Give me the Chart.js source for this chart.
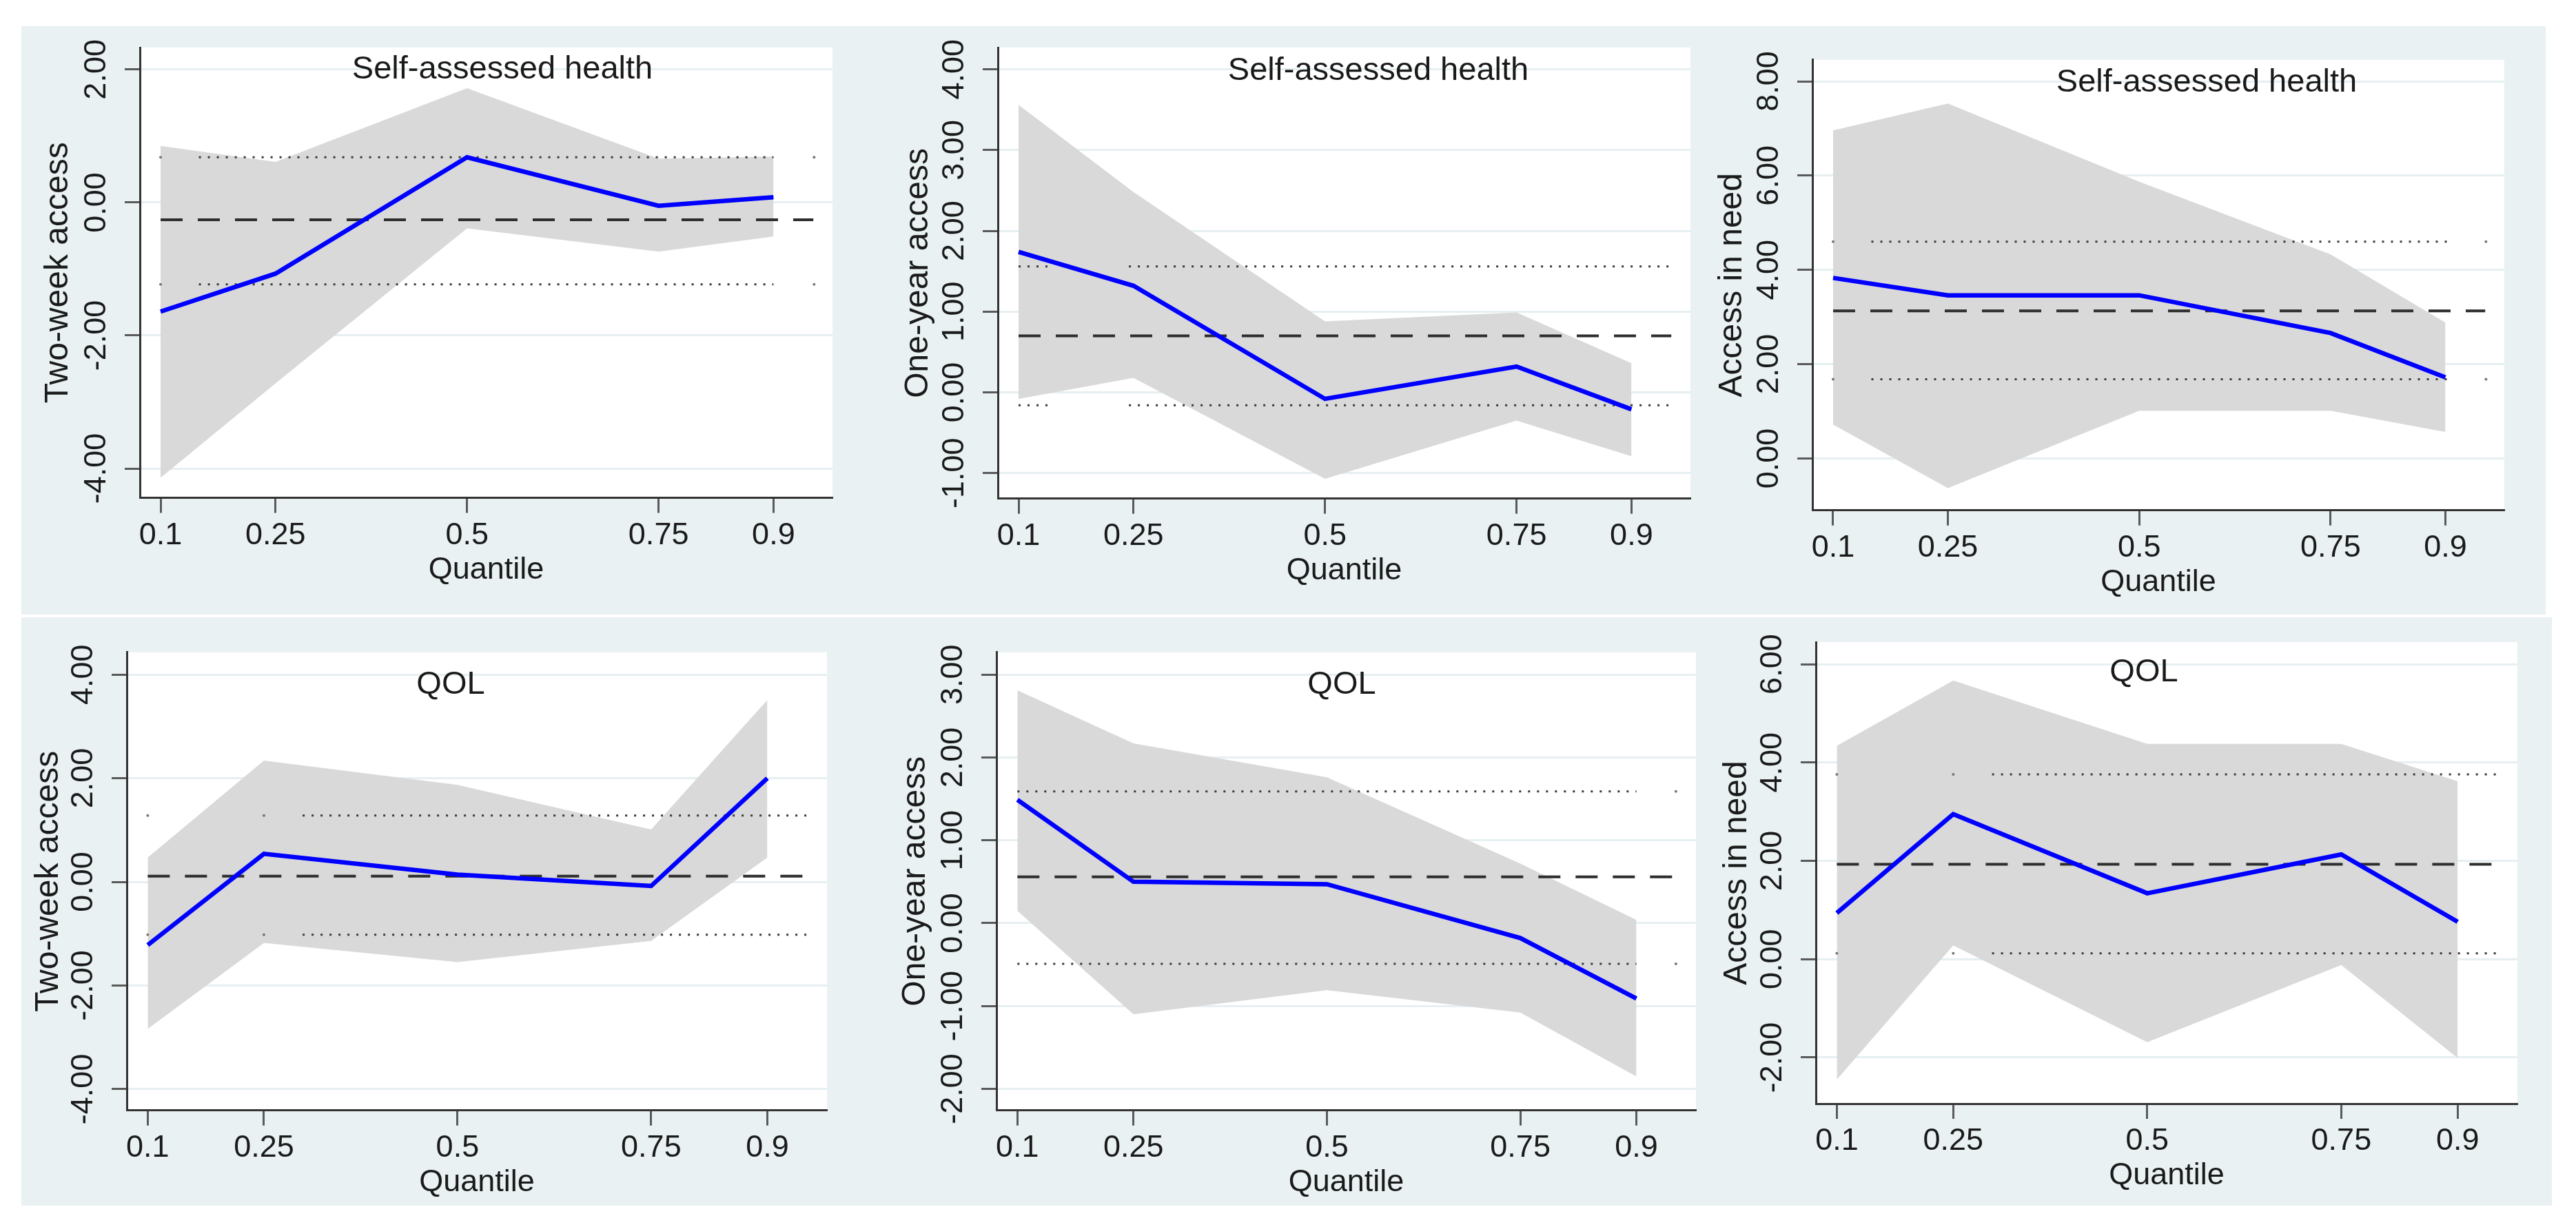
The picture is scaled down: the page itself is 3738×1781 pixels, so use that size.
<!DOCTYPE html>
<html>
<head>
<meta charset="utf-8">
<script src="https://cdn.jsdelivr.net/npm/chart.js@4.4.1/dist/chart.umd.min.js"></script>
<style>
  html, body { margin: 0; padding: 0; background: #fff; }
  body { width: 3738px; height: 1781px; position: relative; overflow: hidden; }
  .row { position: absolute; background: #e9f1f3; }
  canvas { position: absolute; }
</style>
</head>
<body>
<div class="row" style="left:31px;top:38px;width:3663px;height:854px"></div>
<div class="row" style="left:31px;top:896px;width:3672px;height:854px"></div>
<canvas id="c1"></canvas>
<canvas id="c2"></canvas>
<canvas id="c3"></canvas>
<canvas id="c4"></canvas>
<canvas id="c5"></canvas>
<canvas id="c6"></canvas>
<script>
// --- datos ---
const quantiles = [0.1, 0.25, 0.5, 0.75, 0.9];
const xTicks = [0.1, 0.25, 0.5, 0.75, 0.9];
const xTickLabels = ['0.1', '0.25', '0.5', '0.75', '0.9'];
const panelTitles = ['Self-assessed health', 'Self-assessed health', 'Self-assessed health', 'QOL', 'QOL', 'QOL'];
const yTitles = ['Two-week access', 'One-year access', 'Access in need', 'Two-week access', 'One-year access', 'Access in need'];

// quantile estimate, lower / upper band
const est1 = [-1.64, -1.07, 0.68, -0.05, 0.08];
const lo1  = [-4.14, -2.72, -0.39, -0.74, -0.51];
const hi1  = [0.85, 0.61, 1.72, 0.66, 0.69];
const est2 = [1.74, 1.32, -0.08, 0.32, -0.21];
const lo2  = [-0.08, 0.18, -1.07, -0.35, -0.79];
const hi2  = [3.56, 2.48, 0.88, 0.99, 0.36];
const est3 = [3.83, 3.46, 3.46, 2.66, 1.72];
const lo3  = [0.72, -0.63, 1.01, 1.01, 0.56];
const hi3  = [6.96, 7.53, 5.87, 4.33, 2.88];
const est4 = [-1.22, 0.54, 0.14, -0.08, 2.00];
const lo4  = [-2.84, -1.18, -1.55, -1.14, 0.47];
const hi4  = [0.47, 2.34, 1.87, 1.01, 3.51];
const est5 = [1.49, 0.50, 0.47, -0.18, -0.91];
const lo5  = [0.15, -1.10, -0.81, -1.08, -1.85];
const hi5  = [2.81, 2.17, 1.76, 0.72, 0.04];
const est6 = [0.94, 2.95, 1.34, 2.13, 0.76];
const lo6  = [-2.45, 0.28, -1.69, -0.12, -2.01];
const hi6  = [4.34, 5.67, 4.38, 4.38, 3.62];

// OLS: estimate, lower, upper
const ols1 = [-0.26, -1.23, 0.68];
const ols2 = [0.70, -0.16, 1.56];
const ols3 = [3.13, 1.68, 4.60];
const ols4 = [0.11, -1.02, 1.28];
const ols5 = [0.56, -0.49, 1.59];
const ols6 = [1.93, 0.12, 3.76];
const olsSpan = [0.1, 0.952];

// dotted OLS bounds, pieces separated by null
const dotX1 = [0.1, null, 0.15, 0.9, null, 0.953];
const dotX2 = [0.1, 0.144, null, 0.244, 0.952];
const dotX3 = [0.1, null, 0.15, 0.904, null, 0.953];
const dotX4 = [0.1, null, 0.25, null, 0.3, 0.953];
const dotX5 = [0.1, 0.9, null, 0.951];
const dotX6 = [0.1, null, 0.25, null, 0.3, 0.953];

// y ticks and ranges
const yTicks1 = [-4, -2, 0, 2];
const yTicks2 = [-1, 0, 1, 2, 3, 4];
const yTicks3 = [0, 2, 4, 6, 8];
const yTicks4 = [-4, -2, 0, 2, 4];
const yTicks5 = [-2, -1, 0, 1, 2, 3];
const yTicks6 = [-2, 0, 2, 4, 6];
const yRange1 = [-4.44, 2.33];
const yRange2 = [-1.315, 4.27];
const yRange3 = [-1.10, 8.456];
const yRange4 = [-4.41, 4.43];
const yRange5 = [-2.26, 3.27];
const yRange6 = [-2.94, 6.45];
const xRange = [0.073, 0.977];

// --- disposición (px de página) ---
const FONT = '"Liberation Sans", Arial, sans-serif';
const Y_W = 30, X_H = 30;
const layout = [
  { id: 'c1', box: [31, 38, 1209, 854], plot: [203, 69, 1208, 722.5], title: [729, 101], yTitleOff: 118 },
  { id: 'c2', box: [1240, 38, 1240, 854], plot: [1448, 69, 2453, 723.7], title: [2000, 103], yTitleOff: 115 },
  { id: 'c3', box: [2480, 38, 1214, 854], plot: [2630, 86.8, 3634, 740.7], title: [3202, 120], yTitleOff: 116 },
  { id: 'c4', box: [31, 896, 1209, 854], plot: [184, 946.8, 1200, 1611.7], title: [654, 994], yTitleOff: 113 },
  { id: 'c5', box: [1240, 896, 1240, 854], plot: [1446, 946.8, 2461, 1611.7], title: [1947, 994], yTitleOff: 117 },
  { id: 'c6', box: [2480, 896, 1223, 854], plot: [2635, 932, 3653, 1602], title: [3111, 976], yTitleOff: 114 }
];

const panels = [
  { est: est1, lo: lo1, hi: hi1, ols: ols1, dotX: dotX1, yTicks: yTicks1, yRange: yRange1 },
  { est: est2, lo: lo2, hi: hi2, ols: ols2, dotX: dotX2, yTicks: yTicks2, yRange: yRange2 },
  { est: est3, lo: lo3, hi: hi3, ols: ols3, dotX: dotX3, yTicks: yTicks3, yRange: yRange3 },
  { est: est4, lo: lo4, hi: hi4, ols: ols4, dotX: dotX4, yTicks: yTicks4, yRange: yRange4 },
  { est: est5, lo: lo5, hi: hi5, ols: ols5, dotX: dotX5, yTicks: yTicks5, yRange: yRange5 },
  { est: est6, lo: lo6, hi: hi6, ols: ols6, dotX: dotX6, yTicks: yTicks6, yRange: yRange6 }
];

function pts(xs, ys) { return xs.map((x, i) => ({ x: x, y: ys[i] })); }
function flat(xs, y) {
  return xs.map((x, i) => x === null ? { x: xs[i - 1], y: null } : { x: x, y: y });
}
// punto aislado -> se dibuja como punto
function isolatedRadius(ctx) {
  const d = ctx.dataset.data, i = ctx.dataIndex;
  const prev = d[i - 1], next = d[i + 1];
  const alone = (!prev || prev.y === null) && (!next || next.y === null);
  return alone && d[i] && d[i].y !== null ? 2 : 0;
}

const panelText = {
  id: 'panelText',
  beforeDraw(chart) {
    const { ctx, chartArea: a } = chart;
    ctx.save();
    ctx.fillStyle = '#ffffff';
    ctx.fillRect(a.left, a.top, a.right - a.left, a.bottom - a.top);
    ctx.restore();
  },
  afterDraw(chart, args, o) {
    const { ctx, chartArea: a } = chart;
    const xs = chart.scales.x, ys = chart.scales.y;
    ctx.save();
    ctx.fillStyle = '#1a1a1a';
    ctx.textAlign = 'center';
    ctx.textBaseline = 'middle';
    // y tick labels, rotated
    ctx.font = '45px ' + FONT;
    ys.ticks.forEach(t => {
      ctx.save();
      ctx.translate(a.left - 62, ys.getPixelForValue(t.value));
      ctx.rotate(-Math.PI / 2);
      ctx.fillText(t.value.toFixed(2), 0, 0);
      ctx.restore();
    });
    // x tick labels
    xTicks.forEach((v, i) => ctx.fillText(xTickLabels[i], xs.getPixelForValue(v), a.bottom + 55));
    ctx.fillText('Quantile', (a.left + a.right) / 2, a.bottom + 105);
    // y title
    ctx.font = '48px ' + FONT;
    ctx.save();
    ctx.translate(a.left - o.yTitleOff, (a.top + a.bottom) / 2);
    ctx.rotate(-Math.PI / 2);
    ctx.fillText(o.yTitle, 0, 0);
    ctx.restore();
    // panel title
    ctx.font = '47px ' + FONT;
    ctx.fillText(o.title, o.tx, o.ty);
    ctx.restore();
  }
};

function buildPanel(k) {
  const L = layout[k], P = panels[k];
  const [bx, by, bw, bh] = L.box;
  const [pl, pt, pr, pb] = L.plot;
  const cv = document.getElementById(L.id);
  cv.width = bw; cv.height = bh;
  cv.style.left = bx + 'px'; cv.style.top = by + 'px';
  cv.style.width = bw + 'px'; cv.style.height = bh + 'px';

  new Chart(cv.getContext('2d'), {
    type: 'line',
    data: {
      datasets: [
        { data: pts(quantiles, P.est), borderColor: '#0000ff', borderWidth: 6.5, pointRadius: 0, order: 0 },
        { data: flat(olsSpan, P.ols[0]), borderColor: '#2e2e2e', borderWidth: 4, borderDash: [32, 22], pointRadius: 0, order: 1 },
        { data: flat(P.dotX, P.ols[2]), borderColor: '#3a3a3a', borderWidth: 3, borderDash: [3, 10],
          pointRadius: isolatedRadius, pointBackgroundColor: '#777', pointBorderWidth: 0, spanGaps: false, order: 2 },
        { data: flat(P.dotX, P.ols[1]), borderColor: '#3a3a3a', borderWidth: 3, borderDash: [3, 10],
          pointRadius: isolatedRadius, pointBackgroundColor: '#777', pointBorderWidth: 0, spanGaps: false, order: 2 },
        { data: pts(quantiles, P.hi), borderWidth: 0, borderColor: 'rgba(0,0,0,0)', pointRadius: 0,
          fill: '+1', backgroundColor: '#d9d9d9', order: 3 },
        { data: pts(quantiles, P.lo), borderWidth: 0, borderColor: 'rgba(0,0,0,0)', pointRadius: 0, fill: false, order: 4 }
      ]
    },
    options: {
      responsive: false,
      animation: false,
      devicePixelRatio: 1,
      layout: { padding: { left: pl - bx - Y_W, top: pt - by, right: bx + bw - pr, bottom: by + bh - pb - X_H } },
      plugins: {
        legend: { display: false },
        tooltip: { enabled: false },
        panelText: { title: panelTitles[k], yTitle: yTitles[k], tx: L.title[0] - bx, ty: L.title[1] - by, yTitleOff: L.yTitleOff }
      },
      scales: {
        x: {
          type: 'linear', min: xRange[0], max: xRange[1],
          afterBuildTicks: s => { s.ticks = xTicks.map(v => ({ value: v })); },
          afterFit: s => { s.height = X_H; },
          ticks: { display: false },
          grid: { drawOnChartArea: false, tickLength: 22, tickColor: '#5a5a5a', tickWidth: 3 },
          border: { display: true, color: '#333333', width: 3 }
        },
        y: {
          type: 'linear', min: P.yRange[0], max: P.yRange[1],
          afterBuildTicks: s => { s.ticks = P.yTicks.map(v => ({ value: v })); },
          afterFit: s => { s.width = Y_W; },
          ticks: { display: false },
          grid: { color: '#e6eff2', lineWidth: 3, tickLength: 22, tickColor: '#5a5a5a', tickWidth: 3 },
          border: { display: true, color: '#333333', width: 3 }
        }
      }
    },
    plugins: [panelText]
  });
}

for (let k = 0; k < 6; k++) buildPanel(k);
</script>
</body>
</html>
